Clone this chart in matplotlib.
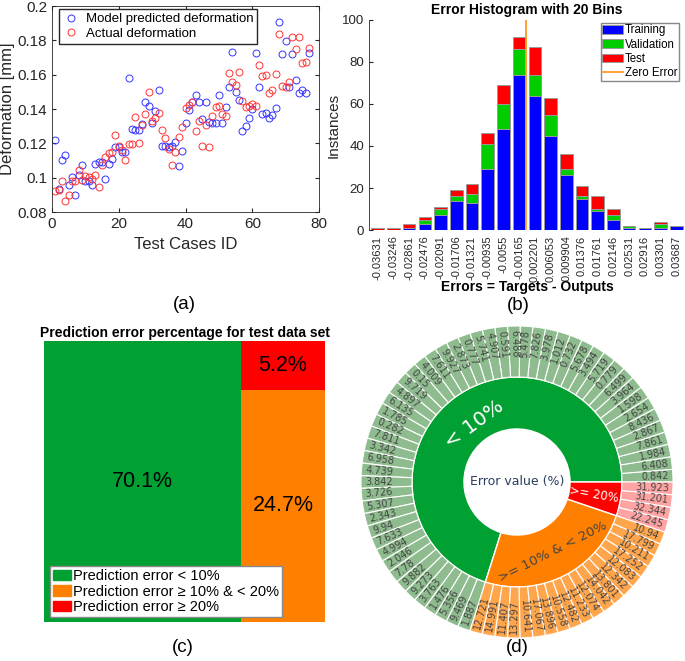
import numpy as np
import matplotlib.pyplot as plt
from matplotlib.patches import Patch, Rectangle

plt.rcParams['font.family'] = ['Liberation Sans', 'DejaVu Sans']

# (a) deformation of the test cases
case_id = np.arange(1, 78)
predicted = [0.122, 0.0936, 0.1105, 0.1134, 0.096, 0.1004, 0.090, 0.1017, 0.1076, 0.0979,
             0.0983, 0.0955, 0.108, 0.109, 0.109, 0.0992, 0.108, 0.111, 0.1176, 0.1176,
             0.1147, 0.1147, 0.158, 0.1285, 0.128, 0.128, 0.1314, 0.144, 0.1415, 0.132,
             0.1386, 0.1512, 0.1182, 0.1182, 0.1178, 0.1182, 0.1205, 0.1066, 0.1157, 0.1318,
             0.1395, 0.1438, 0.1483, 0.1438, 0.1343, 0.1442, 0.1324, 0.1318, 0.1318, 0.1483,
             0.1318, 0.1409, 0.1527, 0.173, 0.150, 0.1455, 0.1273, 0.130, 0.1347, 0.1399,
             0.1729, 0.1527, 0.137, 0.1376, 0.1347, 0.1366, 0.1405, 0.1909, 0.1719, 0.1797,
             0.1531, 0.1719, 0.1568, 0.1496, 0.1512, 0.1492, 0.1725]
actual = [0.092, 0.093, 0.098, 0.0866, 0.090, 0.098, 0.0978, 0.1047, 0.0988, 0.1008,
          0.1004, 0.0994, 0.1014, 0.0946, 0.1076, 0.112, 0.1143, 0.1147, 0.1246, 0.1186,
          0.116, 0.1105, 0.1198, 0.1194, 0.1353, 0.1203, 0.1304, 0.1372, 0.150, 0.1333,
          0.1347, 0.1376, 0.128, 0.123, 0.1169, 0.1076, 0.1147, 0.1234, 0.1295, 0.1403,
          0.1424, 0.1438, 0.1269, 0.1333, 0.1182, 0.1304, 0.1176, 0.1362, 0.1411, 0.1417,
          0.1372, 0.1357, 0.1612, 0.1558, 0.154, 0.1618, 0.1448, 0.1409, 0.1419, 0.143,
          0.1415, 0.1657, 0.1595, 0.1599, 0.1496, 0.1508, 0.1605, 0.1837, 0.1535, 0.1531,
          0.1556, 0.1818, 0.1748, 0.1822, 0.1667, 0.1674, 0.1754]

# (b) error histogram
bin_labels = ['-0.03631', '-0.03246', '-0.02861', '-0.02476', '-0.02091', '-0.01706',
              '-0.01321', '-0.00935', '-0.0055', '-0.00165', '0.002201', '0.006053',
              '0.009904', '0.01376', '0.01761', '0.02146', '0.02531', '0.02916',
              '0.03301', '0.03687']
training = [0, 0, 1, 3, 7, 14, 13, 29, 48, 74, 64, 45, 26, 15, 9, 5, 1, 1, 1, 2]
validation = [0, 0, 0, 2, 3, 2, 4, 12, 12, 12, 10, 10, 3, 1, 1, 2, 1, 0, 2, 0]
test = [1, 1, 2, 1, 1, 3, 5, 5, 9, 6, 13, 8, 7, 5, 6, 3, 0, 0, 1, 0]

# (c) share of the test cases per error class
class_names = ['Prediction error < 10%', 'Prediction error \u2265 10% & < 20%',
               'Prediction error \u2265 20%']
class_share = [70.1, 24.7, 5.2]

# (d) error value of every test case (%)
ring_names = ['< 10%', '>= 10% & < 20%', '>= 20%']
err_low = [0.842, 6.408, 1.984, 7.861, 2.867, 8.436, 2.654, 1.598, 3.964, 6.499,
           0.779, 5.719, 3.494, 5.678, 0.732, 1.012, 3.978, 7.826, 5.478, 6.488,
           0.591, 4.907, 5.741, 0.777, 2.873, 9.927, 7.611, 4.009, 0.15, 9.719,
           4.897, 6.135, 1.785, 0.282, 7.811, 3.342, 6.958, 4.739, 3.842, 3.726,
           5.307, 2.343, 9.94, 7.633, 4.994, 2.046, 7.78, 9.882, 9.273, 3.763,
           1.476, 5.356, 9.469, 1.887]
err_mid = [12.721, 14.991, 11.407, 13.297, 10.641, 17.067, 13.896, 10.558, 12.482, 11.233,
           12.074, 14.042, 13.801, 12.342, 12.083, 17.252, 10.211, 17.799, 10.94]
err_high = [22.245, 32.344, 31.201, 31.923]

W, H = 685, 661
fig = plt.figure(figsize=(W / 100, H / 100), dpi=100)


def box(l, t, r, b):
    return [l / W, 1 - b / H, (r - l) / W, (b - t) / H]


# ---------------- (a) ----------------
ax = fig.add_axes(box(52, 6, 319, 212))
ax.plot(case_id, predicted, 'o', mfc='none', mec='#3333ff', ms=5, mew=0.7,
        label='Model predicted deformation')
ax.plot(case_id, actual, 'o', mfc='none', mec='#ff3333', ms=5, mew=0.7,
        label='Actual deformation')
ax.set_xlim(0, 80)
ax.set_ylim(0.08, 0.2)
ax.set_xticks([0, 20, 40, 60, 80])
ax.set_yticks([0.08, 0.1, 0.12, 0.14, 0.16, 0.18, 0.2])
ax.set_yticklabels(['0.08', '0.1', '0.12', '0.14', '0.16', '0.18', '0.2'])
ax.tick_params(direction='in', top=True, right=True, labelsize=11, colors='#262626',
               length=3)
for s in ax.spines.values():
    s.set_color('#262626')
    s.set_linewidth(0.6)
ax.set_xlabel('Test Cases ID', fontsize=12, color='#262626')
ax.set_ylabel('Deformation [mm]', fontsize=12, color='#262626')
ax.xaxis.set_label_coords(0.5, -0.12)
ax.yaxis.set_label_coords(-0.14, 0.5)
ax.legend(loc='upper left', bbox_to_anchor=(0.027, 0.984), borderaxespad=0,
          fontsize=9.5, fancybox=False, edgecolor='#262626', framealpha=1,
          handlelength=1.2, handletextpad=0.5, borderpad=0.3, labelspacing=0.15)
fig.text(184 / W, 1 - 304 / H, '(a)', ha='center', va='center', fontsize=13.5)

# ---------------- (b) ----------------
ax = fig.add_axes(box(369, 20, 685, 230))
centers = np.array([float(v) for v in bin_labels])
d = np.mean(np.diff(centers))
bw = 0.8 * d
ec = '#9a9a9a'
b1 = ax.bar(centers, training, bw, color='#0000ff', edgecolor=ec, lw=0.7, label='Training')
b2 = ax.bar(centers, validation, bw, bottom=training, color='#00cc00', edgecolor=ec, lw=0.7,
            label='Validation')
b3 = ax.bar(centers, test, bw, bottom=np.add(training, validation), color='#ff0000',
            edgecolor=ec, lw=0.7, label='Test')
zl = ax.axvline(0, color='#ff9a1f', lw=1.3, label='Zero Error')
ax.set_xlim(centers[0] - 0.55 * d, centers[-1] + 0.55 * d)
ax.set_ylim(0, 100)
ax.set_yticks([0, 20, 40, 60, 80, 100])
ax.set_xticks(centers)
ax.set_xticklabels(bin_labels, rotation=90, fontsize=8)
ax.tick_params(axis='x', length=0, pad=4, colors='#262626')
ax.tick_params(axis='y', direction='in', length=3, labelsize=9.5, colors='#262626')
for k in ['top', 'right', 'bottom']:
    ax.spines[k].set_visible(False)
ax.spines['left'].set_color('#262626')
ax.spines['left'].set_linewidth(0.6)
ax.set_title('Error Histogram with 20 Bins', fontsize=10, fontweight='bold', pad=4)
ax.set_xlabel('Errors = Targets - Outputs', fontsize=10, fontweight='bold')
ax.set_ylabel('Instances', fontsize=11, color='#262626')
ax.xaxis.set_label_coords(0.5, -0.24)
ax.yaxis.set_label_coords(-0.09, 0.5)
ax.legend(handles=[b1, b2, b3, zl], loc='upper right', bbox_to_anchor=(0.982, 0.987),
          borderaxespad=0, fontsize=8.3, fancybox=False, edgecolor='#888888',
          framealpha=1, handlelength=1.8, handleheight=0.8, handletextpad=0.15,
          borderpad=0.15, labelspacing=0.2)
fig.text(518 / W, 1 - 305 / H, '(b)', ha='center', va='center', fontsize=13.5)

# ---------------- (c) ----------------
ax = fig.add_axes(box(44, 340.7, 325, 621.7))
class_colors = ['#00a032', '#ff8000', '#ff0000']
w0 = class_share[0] / sum(class_share)
h1 = class_share[1] / (class_share[1] + class_share[2])
rects = [(0, 0, w0, 1), (w0, 0, 1 - w0, h1), (w0, h1, 1 - w0, 1 - h1)]
for (x0, y0, rw, rh), c, v in zip(rects, class_colors, class_share):
    ax.add_patch(Rectangle((x0, y0), rw, rh, color=c, lw=0))
    ax.text(x0 + rw / 2, y0 + rh / 2, f'{v}%', ha='center', va='center', fontsize=15.5)
ax.set_xlim(0, 1)
ax.set_ylim(0, 1)
ax.set_xticks([])
ax.set_yticks([])
for s in ax.spines.values():
    s.set_visible(False)
ax.set_title('Prediction error percentage for test data set', fontsize=10,
             fontweight='bold', pad=2.5)
handles = [Patch(color=c, label=n) for c, n in zip(class_colors, class_names)]
ax.legend(handles=handles, loc='lower left', bbox_to_anchor=(0.021, 0.017),
          borderaxespad=0, fontsize=10.5, fancybox=False, edgecolor='#888888',
          framealpha=1, handlelength=1.25, handleheight=0.75, handletextpad=0.15,
          borderpad=0.2, labelspacing=0.1)
fig.text(183 / W, 1 - 648 / H, '(c)', ha='center', va='center', fontsize=13.5)

# ---------------- (d) ----------------
cx, cy, R = 517, 482, 156
ax = fig.add_axes(box(cx - 160, cy - 160, cx + 160, cy + 160))
groups = [err_low, err_mid, err_high]
inner_colors = ['#00a032', '#ff8000', '#ff0000']
outer_colors = ['#8fbc8f', '#ffa64d', '#ffa3a3']
r_hole, r_mid = 0.34, 0.673
ax.pie([len(g) for g in groups], radius=r_mid, colors=inner_colors, startangle=0,
       counterclock=True, wedgeprops=dict(width=r_mid - r_hole, edgecolor='white', lw=1))
values = [v for g in groups for v in g]
cols = [outer_colors[i] for i, g in enumerate(groups) for _ in g]
ax.pie(np.ones(len(values)), radius=1, colors=cols, startangle=0, counterclock=True,
       wedgeprops=dict(width=1 - r_mid, edgecolor='white', lw=0.8))
n = len(values)
for i, v in enumerate(values):
    th = (i + 0.5) * 360 / n
    t = (th + 180) % 360 - 180
    if -90 <= t <= 90:
        rot, ha = t, 'right'
    else:
        rot, ha = t - 180, 'left'
    ax.text(0.975 * np.cos(np.radians(th)), 0.975 * np.sin(np.radians(th)), f'{v:g}',
            rotation=rot, rotation_mode='anchor', ha=ha, va='center', fontsize=7,
            color='#444444', family='DejaVu Sans')

start = 0
ring_style = [('white', 14.5, 'tangential', 0.46), ('#444444', 9.5, 'tangential', 0.5),
              ('white', 8.5, 'radial', 0.5)]
for g, name, (col, fs, mode, rr) in zip(groups, ring_names, ring_style):
    th = (start + len(g) / 2) * 360 / n
    start += len(g)
    if mode == 'tangential':
        rot = th % 180 - 90
    else:
        rot = (th + 90) % 180 - 90
    ax.text(rr * np.cos(np.radians(th)), rr * np.sin(np.radians(th)), name,
            rotation=rot, rotation_mode='anchor', ha='center', va='center',
            fontsize=fs, color=col, family='DejaVu Sans')
ax.text(0, 0, 'Error value (%)', ha='center', va='center', fontsize=9,
        color='#2a3f5f', family='DejaVu Sans')
ax.set_xlim(-160 / R, 160 / R)
ax.set_ylim(-160 / R, 160 / R)
ax.set_aspect('equal')
ax.axis('off')
fig.text(517 / W, 1 - 648 / H, '(d)', ha='center', va='center', fontsize=13.5)

fig.savefig('out.png', dpi=100)
